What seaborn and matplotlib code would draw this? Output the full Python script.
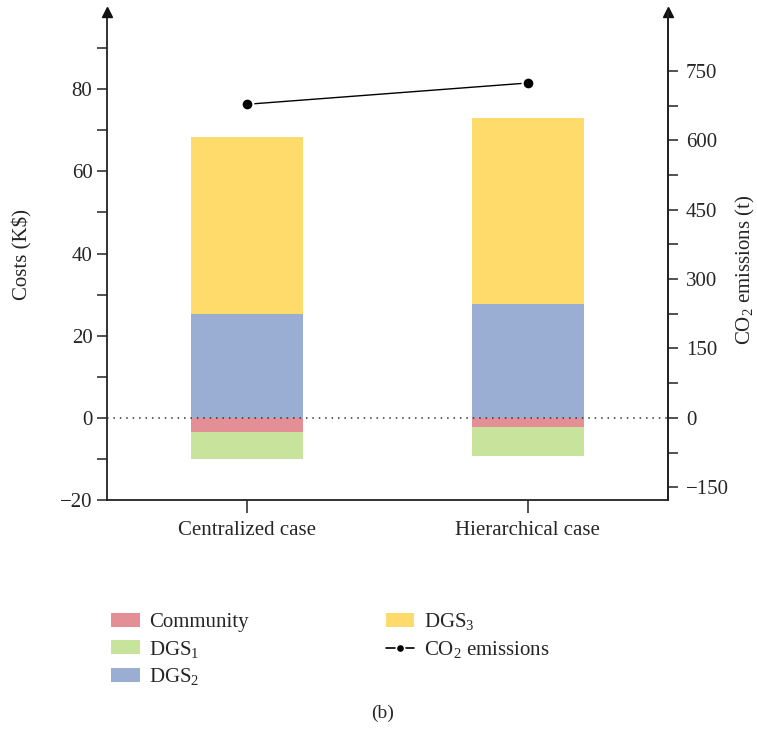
import numpy as np
import pandas as pd
import matplotlib
matplotlib.use("Agg")
import matplotlib.pyplot as plt
import seaborn as sns
from matplotlib.patches import Patch
from matplotlib.lines import Line2D
from matplotlib.ticker import MultipleLocator, FixedLocator

# ---- data ----
cases = ["Centralized case", "Hierarchical case"]
community = [-3.4, -2.2]      # K$
dgs1 = [-6.6, -7.05]          # K$
dgs2 = [25.3, 27.7]           # K$
dgs3 = [43.1, 45.3]           # K$
co2 = [678, 724]              # t

series_labels = ["Community", "DGS$_\\mathrm{1}$", "DGS$_\\mathrm{2}$", "DGS$_\\mathrm{3}$"]
colors = ["#E48F95", "#C8E39B", "#9AAED4", "#FEDB6A"]

sns.set_theme(style="white")
plt.rcParams["font.family"] = ["Liberation Serif", "DejaVu Serif"]
plt.rcParams["mathtext.fontset"] = "custom"
plt.rcParams["mathtext.rm"] = "Liberation Serif"
plt.rcParams["mathtext.it"] = "Liberation Serif:italic"

FS = 15
fig = plt.figure(figsize=(7.57, 7.31), dpi=100)
AX_L, AX_R, AX_B, AX_T = 107, 668, 500, 12
ax = fig.add_axes([AX_L / 757, 1 - AX_B / 731, (AX_R - AX_L) / 757, (AX_B - AX_T) / 731])

df = pd.DataFrame({"case": cases, "community": community, "dgs1": dgs1,
                   "dgs2": dgs2, "dgs3": dgs3})
bottoms_neg = np.zeros(len(cases))
bottoms_pos = np.zeros(len(cases))
W = 0.40
bar_kw = dict(width=W, saturation=1, linewidth=0, edgecolor="none", ax=ax)
# negative stack: Community then DGS1 below it
sns.barplot(data=df, x="case", y="community", color=colors[0], bottom=bottoms_neg, **bar_kw)
bottoms_neg = bottoms_neg + np.array(community)
sns.barplot(data=df, x="case", y="dgs1", color=colors[1], bottom=bottoms_neg, **bar_kw)
# positive stack: DGS2 then DGS3
sns.barplot(data=df, x="case", y="dgs2", color=colors[2], bottom=bottoms_pos, **bar_kw)
bottoms_pos = bottoms_pos + np.array(dgs2)
sns.barplot(data=df, x="case", y="dgs3", color=colors[3], bottom=bottoms_pos, **bar_kw)

ax.set_xlim(-0.5, 1.5)
ax.set_ylim(-20, 98.8)
ax.axhline(0, color="#333333", lw=1.1, ls=(0, (1, 3.2)), zorder=5)
ax.yaxis.set_major_locator(MultipleLocator(20))
ax.yaxis.set_minor_locator(MultipleLocator(10))
ax.set_xlabel("")
ax.set_ylabel("Costs (K$)", fontsize=FS, va="center")
ax.yaxis.set_label_coords((22 - AX_L) / (AX_R - AX_L), (AX_B - 255) / (AX_B - AX_T))
ax.tick_params(axis="both", which="both", direction="out", length=7, width=1.1,
               color="#222222", labelsize=FS, left=True, bottom=True)
ax.tick_params(axis="x", length=9, pad=6)
ax.spines["top"].set_visible(False)
for s in ["left", "bottom", "right"]:
    ax.spines[s].set_color("#222222")
    ax.spines[s].set_linewidth(1.3)
ax.set_yticklabels([("\u2212" + str(int(-t))) if t < 0 else str(int(t))
                    for t in ax.get_yticks()])

# CO2 emissions on the secondary axis
ax2 = ax.twinx()
ax2.set_position(ax.get_position())
sns.pointplot(x=cases, y=co2, color="black", markers="o", linestyles="-",
              markersize=8.5, linewidth=1.0, markeredgecolor="white",
              markeredgewidth=1.5, errorbar=None, ax=ax2)
ax2.set_xlim(-0.5, 1.5)
ax2.set_ylim(-177.7, 877.5)
ax2.yaxis.set_major_locator(FixedLocator([-150, 0, 150, 300, 450, 600, 750]))
ax2.yaxis.set_minor_locator(FixedLocator([-75, 75, 225, 375, 525, 675]))
ax2.set_yticklabels([("\u2212" + str(int(-t))) if t < 0 else str(int(t))
                     for t in ax2.get_yticks()])
ax2.set_ylabel("CO$_\\mathrm{2}$ emissions (t)", fontsize=FS, va="center")
ax2.yaxis.set_label_coords((745 - AX_L) / (AX_R - AX_L), (AX_B - 270) / (AX_B - AX_T))
ax2.tick_params(axis="y", which="both", direction="out", length=7, width=1.1,
                color="#222222", labelsize=FS, right=True, pad=6)
for s in ["top", "left", "bottom"]:
    ax2.spines[s].set_visible(False)
ax2.spines["right"].set_color("#222222")
ax2.spines["right"].set_linewidth(1.3)

# arrowheads at the top of both vertical axes
for xa in (0, 1):
    ax.plot(xa, 1.0, marker="^", color="#111111", markersize=7,
            transform=ax.transAxes, clip_on=False, zorder=10)

# legend below the plot
handles = [Patch(facecolor=colors[0], edgecolor="none"),
           Patch(facecolor=colors[1], edgecolor="none"),
           Patch(facecolor=colors[2], edgecolor="none"),
           Patch(facecolor=colors[3], edgecolor="none"),
           Line2D([], [], color="black", lw=1.2, marker="o", markersize=6,
                  markeredgecolor="white", markeredgewidth=1.2)]
labels = series_labels + ["CO$_\\mathrm{2}$ emissions"]
fig.legend(handles, labels, loc="upper left", bbox_to_anchor=(101 / 757, 1 - 601 / 731),
           ncol=2, frameon=False, fontsize=FS, handlelength=1.35, handleheight=0.65,
           handletextpad=0.45, labelspacing=0.3, columnspacing=6.6, borderpad=0)

fig.text(383 / 757, 1 - 713 / 731, "(b)", ha="center", va="center", fontsize=FS - 1)

fig.savefig("out.png", dpi=100)
